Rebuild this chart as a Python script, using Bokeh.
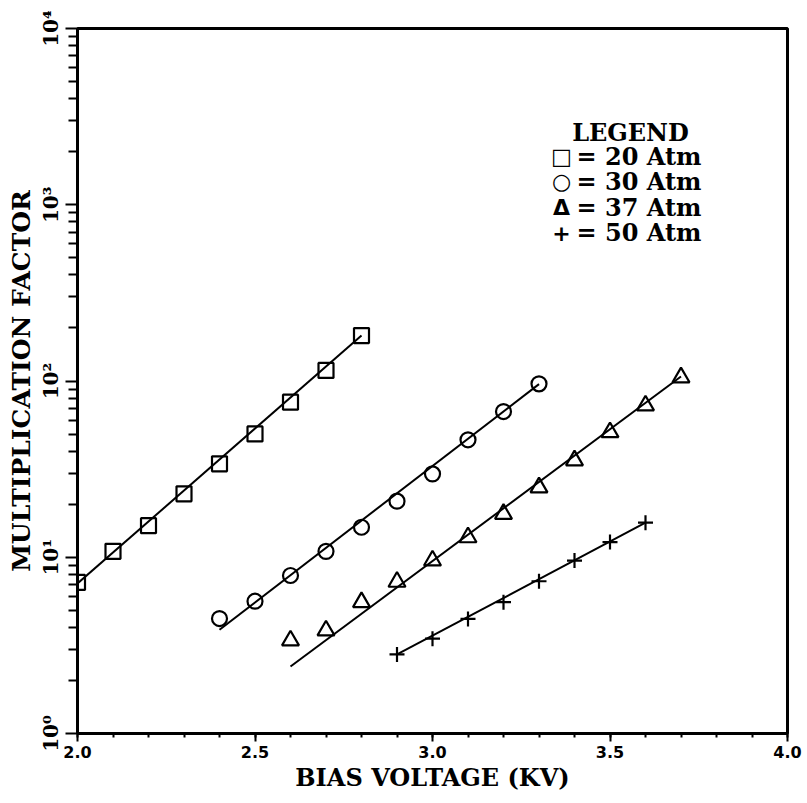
import math
from bokeh.plotting import figure
from bokeh.models import FixedTicker, Label, CustomJSTickFormatter, PrintfTickFormatter
from bokeh.embed import file_html
from bokeh.resources import INLINE

# ---- data ----
sq_kv = [2.0, 2.1, 2.2, 2.3, 2.4, 2.5, 2.6, 2.7, 2.8]
sq_m = [7.2, 10.8, 15.1, 22.9, 33.9, 50.1, 75.8, 114.8, 181.0]
ci_kv = [2.4, 2.5, 2.6, 2.7, 2.8, 2.9, 3.0, 3.1, 3.2, 3.3]
ci_m = [4.49, 5.63, 7.88, 10.8, 14.8, 20.8, 29.7, 46.4, 67.1, 96.4]
tr_kv = [2.6, 2.7, 2.8, 2.9, 3.0, 3.1, 3.2, 3.3, 3.4, 3.5, 3.6, 3.7]
tr_m = [3.37, 3.84, 5.56, 7.25, 9.58, 12.97, 17.6, 24.9, 35.4, 51.2, 72.6, 104.8]
pl_kv = [2.9, 3.0, 3.1, 3.2, 3.3, 3.4, 3.5, 3.6]
pl_m = [2.81, 3.45, 4.47, 5.56, 7.31, 9.58, 12.2, 15.7]

# fitted straight lines (end points)
sq_fit_kv = [2.0, 2.8]
sq_fit_m = [7.1, 181.0]
ci_fit_kv = [2.4, 3.3]
ci_fit_m = [3.88, 96.0]
tr_fit_kv = [2.6, 3.7]
tr_fit_m = [2.40, 106.0]
pl_fit_kv = [2.9, 3.6]
pl_fit_m = [2.81, 15.7]

legend_labels = ["= 20 Atm", "= 30 Atm", "= 37 Atm", "= 50 Atm"]
legend_symbols = ["\u25a1", "\u25cb", "\u0394", "+"]

x_ticks = [2.0, 2.5, 3.0, 3.5, 4.0]
y_ticks = [1, 10, 100, 1000, 10000]

SERIF = "DejaVu Serif"

p = figure(width=807, height=803, x_range=(2.0, 4.0), y_range=(1, 10000),
           y_axis_type="log", output_backend="svg", toolbar_location=None,
           min_border_left=77, min_border_right=20, min_border_top=28,
           min_border_bottom=70)
p.background_fill_color = "white"
p.border_fill_color = "white"
p.grid.visible = False
p.outline_line_color = "black"
p.outline_line_width = 3

# x axis
xa = p.xaxis[0]
xa.ticker = FixedTicker(ticks=x_ticks,
                        minor_ticks=[round(2.0 + 0.1 * i, 2) for i in range(21)])
xa.formatter = PrintfTickFormatter(format="%.1f")
xa.axis_label = "BIAS VOLTAGE (KV)"
xa.axis_label_text_font = SERIF
xa.axis_label_text_font_style = "bold"
xa.axis_label_text_font_size = "24px"
xa.axis_label_text_color = "black"
xa.axis_label_standoff = 2
xa.major_label_text_font = "DejaVu Sans"
xa.major_label_text_font_style = "bold"
xa.major_label_text_font_size = "16px"
xa.major_label_text_color = "black"
xa.major_label_standoff = 4
xa.axis_line_width = 3
xa.axis_line_color = "black"
xa.major_tick_line_color = "black"
xa.minor_tick_line_color = "black"
xa.major_tick_line_width = 2
xa.minor_tick_line_width = 2
xa.major_tick_out = 8
xa.major_tick_in = 0
xa.minor_tick_out = 4
xa.minor_tick_in = 0

# y axis
ya = p.yaxis[0]
ya.ticker = FixedTicker(ticks=y_ticks,
                        minor_ticks=[k * 10 ** d for d in range(4) for k in range(2, 10)])
ya.formatter = CustomJSTickFormatter(code="""
const sup = ["\u2070", "\u00b9", "\u00b2", "\u00b3", "\u2074"];
return "10" + sup[Math.round(Math.log10(tick))];
""")
ya.major_label_orientation = "vertical"
ya.major_label_text_font = "DejaVu Serif"
ya.major_label_text_font_style = "bold"
ya.major_label_text_font_size = "20px"
ya.major_label_text_color = "black"
ya.major_label_standoff = 3
ya.axis_label = "MULTIPLICATION FACTOR"
ya.axis_label_text_font = SERIF
ya.axis_label_text_font_style = "bold"
ya.axis_label_text_font_size = "25px"
ya.axis_label_text_color = "black"
ya.axis_label_standoff = 0
ya.axis_line_width = 3
ya.axis_line_color = "black"
ya.major_tick_line_color = "black"
ya.minor_tick_line_color = "black"
ya.major_tick_line_width = 2
ya.minor_tick_line_width = 2
ya.major_tick_out = 12
ya.major_tick_in = 0
ya.minor_tick_out = 9
ya.minor_tick_in = 0

# fitted lines
for fx, fy in [(sq_fit_kv, sq_fit_m), (ci_fit_kv, ci_fit_m),
               (tr_fit_kv, tr_fit_m), (pl_fit_kv, pl_fit_m)]:
    p.line(fx, fy, line_color="black", line_width=2)

# data markers
p.scatter(sq_kv, sq_m, marker="square", size=15, fill_alpha=0,
          line_color="black", line_width=2.2)
p.scatter(ci_kv, ci_m, marker="circle", size=15, fill_alpha=0,
          line_color="black", line_width=2.2)
p.scatter(tr_kv, tr_m, marker="triangle", size=17, fill_alpha=0,
          line_color="black", line_width=2.2)
p.scatter(pl_kv, pl_m, marker="cross", size=15,
          line_color="black", line_width=2.2)

# legend drawn as text
def px_x(px):
    return 2.0 + (px - 77) / 355.0

def px_y(py):
    return 10 ** ((733 - py) / 176.25)

p.add_layout(Label(x=px_x(630), y=px_y(132), text="LEGEND",
                   text_font=SERIF, text_font_style="bold",
                   text_font_size="24px", text_align="center",
                   text_baseline="middle", text_color="black"))
rows_y = [156, 181, 207, 232]
for sym, lab, ry in zip(legend_symbols, legend_labels, rows_y):
    p.add_layout(Label(x=px_x(561), y=px_y(ry), text=sym,
                       text_font="DejaVu Sans", text_font_style="bold",
                       text_font_size="22px", text_align="center",
                       text_baseline="middle", text_color="black"))
    p.add_layout(Label(x=px_x(576), y=px_y(ry), text=lab,
                       text_font=SERIF, text_font_style="bold",
                       text_font_size="24px", text_align="left",
                       text_baseline="middle", text_color="black"))

open("out.html", "w").write(file_html(p, INLINE))
